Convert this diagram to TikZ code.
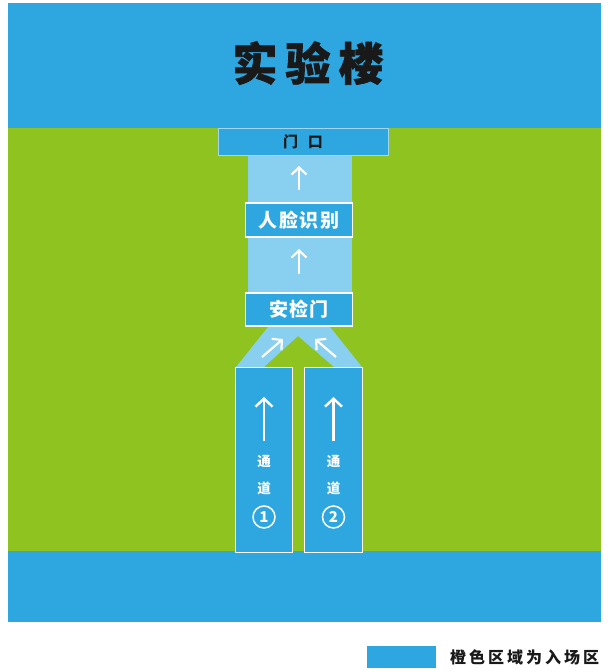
\documentclass[tikz,border=0pt]{standalone}
\usepackage{fontspec}
\newfontfamily\cjk{Noto Sans CJK SC}
\newfontfamily\cjkheavy[BoldFeatures={FakeBold=1.6}]{Noto Sans CJK SC}
\usetikzlibrary{arrows.meta}
\definecolor{bandblue}{HTML}{2EA7E0}
\definecolor{grass}{HTML}{8FC31F}
\definecolor{lightblue}{HTML}{89CFF0}
\begin{document}
\begin{tikzpicture}[x=1pt,y=-1pt,
  box/.style={rectangle, fill=bandblue, draw=white, line width=1.8pt, inner sep=0pt},
  wlabel/.style={text=white, font=\cjk\bfseries\fontsize{19}{19}\selectfont, inner sep=0pt},
  chtext/.style={text=white, font=\cjk\bfseries\fontsize{13.5}{13.5}\selectfont, inner sep=0pt},
  num/.style={circle, draw=white, line width=1.5pt, minimum size=22pt, inner sep=0pt, text=white, font=\cjk\bfseries\fontsize{15}{15}\selectfont},
  flow/.style={draw=white, line width=2.2pt, -{Straight Barb[length=7pt,width=15pt,line width=2.2pt]}},
  bigflow/.style={draw=white, line width=2.4pt, -{Straight Barb[length=8pt,width=17pt,line width=2.4pt]}}
]
\useasboundingbox[fill=white] (0,0) rectangle (609,672);
% bands
\fill[bandblue] (8,3) rectangle (601,128);
\fill[grass] (8,128) rectangle (601,551);
\fill[bandblue] (8,551) rectangle (601,622);
% corridor
\fill[lightblue] (248,150) rectangle (352,300);
\fill[lightblue] (272,322) -- (236,367) -- (264,367) -- (298,336) -- (334,367) -- (362,367) -- (326,322) -- cycle;
% title
\node[font=\cjkheavy\bfseries\fontsize{45}{45}\selectfont, text=black!90] (title) at (308,63) {实\hspace{8pt}验\hspace{8pt}楼};
% boxes
\node[box, draw=white!55!bandblue, line width=0.8pt, minimum width=170pt, minimum height=27pt,
      font=\cjk\bfseries\fontsize{15}{15}\selectfont, text=black!90] (door) at (303,141.5) {门\hspace{10pt}口};
\node[box, minimum width=107pt, minimum height=34pt] (face) at (299,220) {};
\node[wlabel] (facet) at (face.center) {人\hspace{1.5pt}脸\hspace{1.5pt}识\hspace{1.5pt}别};
\node[box, minimum width=107pt, minimum height=33pt] (gate) at (299,309.5) {};
\node[wlabel] (gatet) at (gate.center) {安\hspace{1.5pt}检\hspace{1.5pt}门};
\node[box, minimum width=57pt, minimum height=185pt] (ch1) at (264,460) {};
\node[box, minimum width=58pt, minimum height=185pt] (ch2) at (333.5,460) {};
% channel texts
\node[chtext] (t1a) at (264,462) {通};
\node[chtext] (t1b) at (264,488) {道};
\node[num] (n1) at (264,517) {1};
\node[chtext] (t2a) at (333.5,462) {通};
\node[chtext] (t2b) at (333.5,488) {道};
\node[num] (n2) at (333.5,517) {2};
% arrows
\coordinate (a1s) at (299,190); \coordinate (a1e) at (299,166);
\coordinate (a2s) at (299,274); \coordinate (a2e) at (299,249);
\coordinate (a3s) at (262,357); \coordinate (a3e) at (283,339);
\coordinate (a4s) at (336,357); \coordinate (a4e) at (315,339);
\coordinate (c1s) at (264,441); \coordinate (c1e) at (264,397);
\coordinate (c2s) at (333.5,441); \coordinate (c2e) at (333.5,397);
\draw[flow] (a1s) -- (a1e);
\draw[flow] (a2s) -- (a2e);
\draw[flow] (a3s) -- (a3e);
\draw[flow] (a4s) -- (a4e);
\draw[bigflow] (c1s) -- (c1e);
\draw[bigflow] (c2s) -- (c2e);
% legend
\node[rectangle, fill=bandblue, minimum width=69pt, minimum height=22pt, inner sep=0pt] (leg) at (401.5,657) {};
\node[anchor=west, inner sep=0pt, font=\cjk\bfseries\fontsize{16}{16}\selectfont, text=black!90] (legt) at (450,657) {橙\hspace{3pt}色\hspace{3pt}区\hspace{3pt}域\hspace{3pt}为\hspace{3pt}入\hspace{3pt}场\hspace{3pt}区};
\end{tikzpicture}
\end{document}
